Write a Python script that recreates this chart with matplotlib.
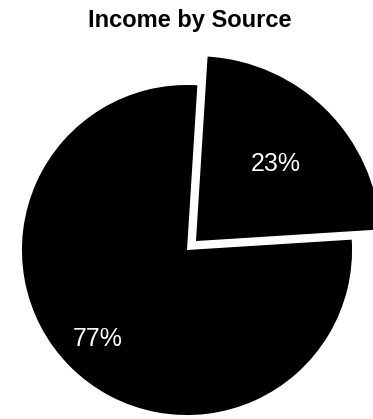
import matplotlib
matplotlib.use("Agg")
import matplotlib.pyplot as plt

# data
sources = ["Source A", "Source B"]
shares = [23, 77]
explode = [0.077, 0.0]
title = "Income by Source"

plt.rcParams['font.family'] = ['Liberation Sans', 'DejaVu Sans']

fig = plt.figure(figsize=(3.73, 4.19), dpi=100)
ax = fig.add_axes([0, 0, 1, 1])

# small slice centred on 45 degrees, going clockwise
start = 45 + shares[0] / 100 * 360 / 2
wedges, texts, autotexts = ax.pie(
    shares, explode=explode, startangle=start, counterclock=False,
    colors=["black", "black"], autopct="%d%%", pctdistance=0.6,
    wedgeprops=dict(linewidth=0),
    textprops=dict(color="white", fontsize=18))

# the detached slice is drawn a little larger
wedges[0].set_radius(1.12)
x, y = autotexts[0].get_position()
autotexts[0].set_position((x * 1.12, y * 1.09))
x, y = autotexts[1].get_position()
autotexts[1].set_position((x * 1.27, y * 1.27))

ax.set_xlim(-1.133, 1.127)
ax.set_ylim(-1.024, 1.515)
ax.set_aspect("auto")
ax.axis("off")

fig.text(0.51, 1 - 21 / 419, title, ha="center", va="center",
         fontsize=17, fontweight="bold")

fig.savefig("out.png", dpi=100)
